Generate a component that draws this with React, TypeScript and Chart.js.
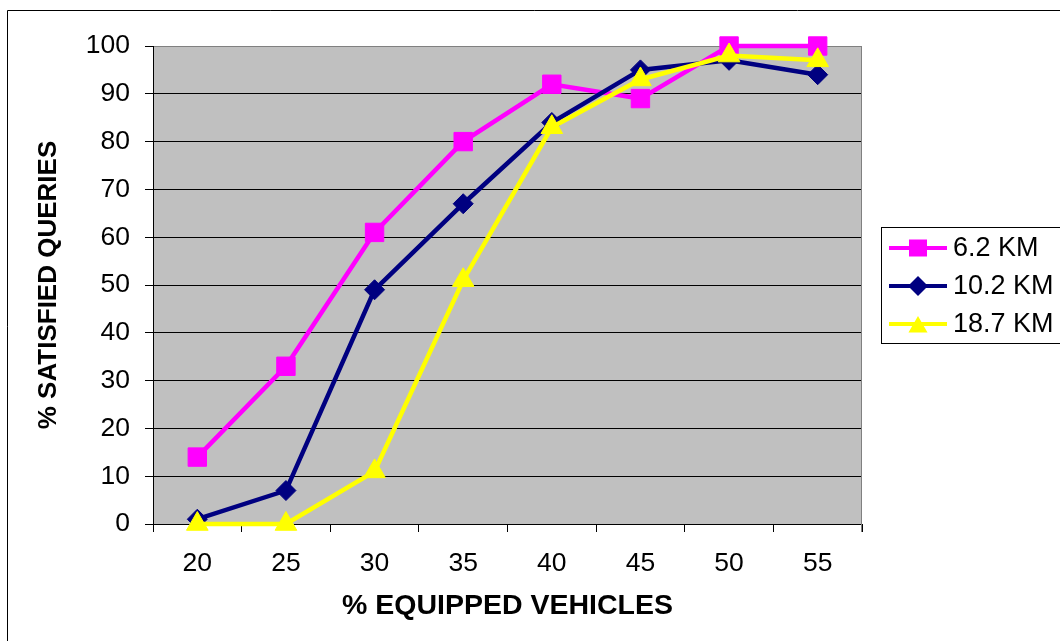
import React, { useEffect, useRef } from "react";
import { Chart, registerables } from "chart.js";

Chart.register(...registerables);

const categories = ["20", "25", "30", "35", "40", "45", "50", "55"];
const seriesNames = ["6.2 KM", "10.2 KM", "18.7 KM"];
const values62 = [14, 33, 61, 80, 92, 89, 100, 100];
const values102 = [1, 7, 49, 67, 84, 95, 97, 94];
const values187 = [0, 0, 11, 51, 83, 93, 98, 97];
const seriesColors = ["#FF00FF", "#000080", "#FFFF00"];
const pointStyles = ["rect", "rectRot", "triangle"];
const yTicks = [0, 10, 20, 30, 40, 50, 60, 70, 80, 90, 100];
const xTitle = "% EQUIPPED VEHICLES";
const yTitle = "% SATISFIED QUERIES";

const FONT = "'Liberation Sans', Arial, sans-serif";

function drawMarker(ctx: CanvasRenderingContext2D, style: string, x: number, y: number, color: string) {
  ctx.save();
  ctx.fillStyle = color;
  ctx.beginPath();
  if (style === "rect") {
    ctx.rect(x - 9, y - 8.5, 18, 17);
  } else if (style === "rectRot") {
    const r = 10;
    ctx.moveTo(x - r, y);
    ctx.lineTo(x, y - r);
    ctx.lineTo(x + r, y);
    ctx.lineTo(x, y + r);
    ctx.closePath();
  } else {
    const r = 11;
    for (let i = 0; i < 3; i++) {
      const a = (i * 2 * Math.PI) / 3;
      const px = x + Math.sin(a) * r;
      const py = y + 3 - Math.cos(a) * r;
      if (i === 0) ctx.moveTo(px, py);
      else ctx.lineTo(px, py);
    }
    ctx.closePath();
  }
  ctx.fill();
  ctx.restore();
}

const framePlugin = {
  id: "framePlugin",
  beforeDraw(chart: any) {
    const { ctx, chartArea, width, height } = chart;
    ctx.save();
    ctx.fillStyle = "#FFFFFF";
    ctx.fillRect(0, 0, width, height);
    ctx.strokeStyle = "#000000";
    ctx.lineWidth = 1;
    ctx.beginPath();
    ctx.moveTo(7.5, height + 5);
    ctx.lineTo(7.5, 10.5);
    ctx.lineTo(width + 5, 10.5);
    ctx.stroke();
    ctx.fillStyle = "#C0C0C0";
    ctx.fillRect(chartArea.left, chartArea.top, chartArea.right - chartArea.left, chartArea.bottom - chartArea.top);
    ctx.restore();
  },
  beforeDatasetsDraw(chart: any) {
    const { ctx, chartArea } = chart;
    ctx.save();
    ctx.strokeStyle = "#808080";
    ctx.lineWidth = 1;
    ctx.beginPath();
    ctx.moveTo(Math.round(chartArea.right) - 0.5, chartArea.top);
    ctx.lineTo(Math.round(chartArea.right) - 0.5, chartArea.bottom + 8);
    ctx.stroke();
    ctx.restore();
  },
  afterDraw(chart: any) {
    const { ctx } = chart;
    ctx.save();
    ctx.strokeStyle = "#000000";
    ctx.lineWidth = 1;
    ctx.strokeRect(881.5, 227.5, 300, 116);
    const ys = [248, 286, 324];
    chart.data.datasets.forEach((ds: any, i: number) => {
      const y = ys[i];
      ctx.strokeStyle = ds.borderColor;
      ctx.lineWidth = 4;
      ctx.beginPath();
      ctx.moveTo(889, y);
      ctx.lineTo(947, y);
      ctx.stroke();
      drawMarker(ctx, ds.pointStyle, 918, y, ds.borderColor);
      ctx.fillStyle = "#000000";
      ctx.font = `27px ${FONT}`;
      ctx.textAlign = "left";
      ctx.textBaseline = "middle";
      ctx.fillText(ds.label, 953, y + 1);
    });
    ctx.restore();
  },
};

export default function App() {
  const canvasRef = useRef<HTMLCanvasElement | null>(null);

  useEffect(() => {
    document.body.style.margin = "0";
    const canvas = canvasRef.current;
    if (!canvas) return;
    const seriesValues = [values62, values102, values187];
    const radii = [13, 10, 12.5];
    const chart = new Chart(canvas, {
      type: "line",
      data: {
        labels: categories,
        datasets: seriesNames.map((name, i) => ({
          label: name,
          data: seriesValues[i],
          borderColor: seriesColors[i],
          backgroundColor: seriesColors[i],
          pointBackgroundColor: seriesColors[i],
          pointBorderColor: seriesColors[i],
          pointBorderWidth: 1,
          pointStyle: pointStyles[i] as any,
          pointRadius: radii[i],
          borderWidth: 4.5,
          tension: 0,
          fill: false,
          clip: false as any,
          order: 3 - i,
        })),
      },
      options: {
        responsive: false,
        animation: false,
        devicePixelRatio: 1,
        layout: { padding: { left: 0, top: 46, right: 198, bottom: 0 } },
        plugins: {
          legend: { display: false },
          tooltip: { enabled: false },
          title: { display: false },
        },
        scales: {
          x: {
            type: "category",
            offset: true,
            grid: {
              offset: true,
              drawOnChartArea: false,
              drawTicks: true,
              tickLength: 8,
              color: "#000000",
              tickColor: "#000000",
            },
            border: { display: true, color: "#000000", width: 1 },
            ticks: {
              color: "#000000",
              font: { family: FONT, size: 26.5 },
              padding: 16,
              maxRotation: 0,
              autoSkip: false,
            },
            title: {
              display: true,
              text: xTitle,
              color: "#000000",
              font: { family: FONT, size: 28.5, weight: "bold" },
              padding: { top: 0, bottom: 18 },
            },
            afterFit: (s: any) => {
              s.height = 117;
            },
          },
          y: {
            min: 0,
            max: 100,
            afterBuildTicks: (s: any) => {
              s.ticks = yTicks.map((v) => ({ value: v }));
            },
            grid: {
              drawTicks: true,
              tickLength: 8,
              color: (c: any) => (c.tick && c.tick.value === 100 ? "#808080" : "#000000"),
              tickColor: "#000000",
            },
            border: { display: true, color: "#000000", width: 1 },
            ticks: {
              color: "#000000",
              font: { family: FONT, size: 26.5 },
              padding: 15,
            },
            title: {
              display: true,
              text: yTitle,
              color: "#000000",
              font: { family: FONT, size: 26, weight: "bold" },
              padding: { top: 33, bottom: 0 },
            },
            afterFit: (s: any) => {
              s.width = 153;
            },
          },
        },
      },
      plugins: [framePlugin],
    });
    return () => chart.destroy();
  }, []);

  return (
    <div style={{ width: 1060, height: 641 }}>
      <canvas ref={canvasRef} width={1060} height={641} style={{ display: "block" }} />
    </div>
  );
}
